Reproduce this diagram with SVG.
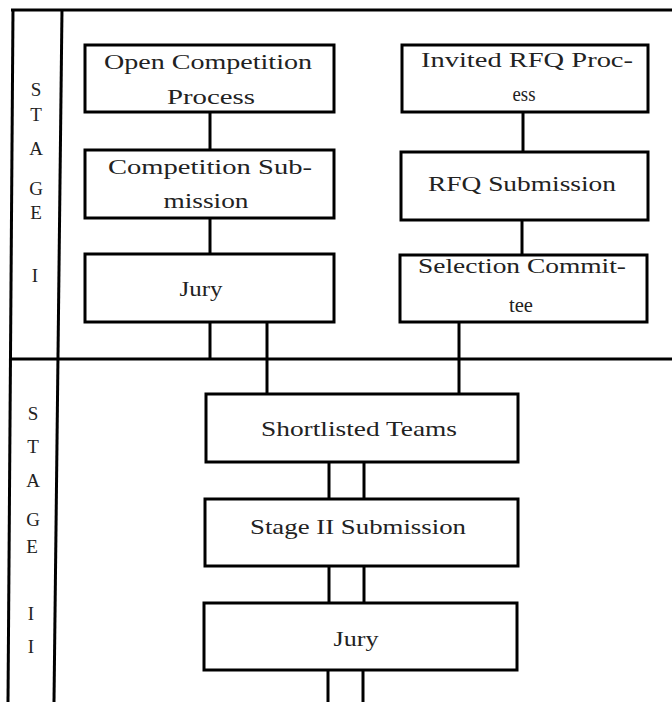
<svg xmlns="http://www.w3.org/2000/svg" width="672" height="702" viewBox="0 0 672 702">
<style>
.box{fill:#fff;stroke:#000;stroke-width:3}
.ln{stroke:#000;stroke-width:3;fill:none}
.t{font-family:"Liberation Serif","Times New Roman",serif;font-size:21px;fill:#222;text-anchor:middle}
.lt{font-family:"Liberation Serif","Times New Roman",serif;font-size:19px;fill:#222;text-anchor:middle}
</style>
<rect width="672" height="702" fill="#fff"/>
<g id="frame">
<line class="ln" x1="11" y1="10" x2="672" y2="10"/>
<line class="ln" x1="13" y1="9" x2="8" y2="702"/>
<line class="ln" x1="62" y1="9" x2="54" y2="702"/>
<line class="ln" x1="10" y1="359" x2="672" y2="359"/>
</g>
<g id="stage1-label">
<text class="lt" x="36" y="96">S</text>
<text class="lt" x="36" y="121">T</text>
<text class="lt" x="36" y="155">A</text>
<text class="lt" x="36" y="195">G</text>
<text class="lt" x="36" y="219">E</text>
<text class="lt" x="35" y="282">I</text>
</g>
<g id="stage2-label">
<text class="lt" x="33" y="420">S</text>
<text class="lt" x="33" y="453">T</text>
<text class="lt" x="33" y="487">A</text>
<text class="lt" x="33" y="526">G</text>
<text class="lt" x="32" y="553">E</text>
<text class="lt" x="31" y="620">I</text>
<text class="lt" x="31" y="653">I</text>
</g>
<g id="connectors">
<line class="ln" x1="210" y1="112" x2="210" y2="150"/>
<line class="ln" x1="210" y1="218" x2="210" y2="254"/>
<line class="ln" x1="210" y1="322" x2="210" y2="359"/>
<line class="ln" x1="267" y1="322" x2="267" y2="394"/>
<line class="ln" x1="523" y1="112" x2="523" y2="152"/>
<line class="ln" x1="522" y1="220" x2="522" y2="255"/>
<line class="ln" x1="459" y1="322" x2="459" y2="394"/>
<line class="ln" x1="329" y1="462" x2="329" y2="499"/>
<line class="ln" x1="364" y1="462" x2="364" y2="499"/>
<line class="ln" x1="329" y1="566" x2="329" y2="603"/>
<line class="ln" x1="364" y1="566" x2="364" y2="603"/>
<line class="ln" x1="328" y1="670" x2="328" y2="702"/>
<line class="ln" x1="363" y1="670" x2="363" y2="702"/>
</g>
<g id="open-competition">
<rect class="box" x="85" y="45" width="249" height="67"/>
<text class="t" x="208" y="69" textLength="208" lengthAdjust="spacingAndGlyphs">Open Competition</text>
<text class="t" x="211" y="104" textLength="88" lengthAdjust="spacingAndGlyphs">Process</text>
</g>
<g id="competition-submission">
<rect class="box" x="85" y="150" width="249" height="68"/>
<text class="t" x="210" y="174" textLength="204" lengthAdjust="spacingAndGlyphs">Competition Sub-</text>
<text class="t" x="206" y="208" textLength="85" lengthAdjust="spacingAndGlyphs">mission</text>
</g>
<g id="jury-1">
<rect class="box" x="85" y="254" width="249" height="68"/>
<text class="t" x="201" y="296" textLength="43" lengthAdjust="spacingAndGlyphs">Jury</text>
</g>
<g id="invited-rfq">
<rect class="box" x="402" y="45" width="246" height="67"/>
<text class="t" x="527" y="67" textLength="212" lengthAdjust="spacingAndGlyphs">Invited RFQ Proc-</text>
<text class="t" x="524" y="101" textLength="23" lengthAdjust="spacingAndGlyphs">ess</text>
</g>
<g id="rfq-submission">
<rect class="box" x="401" y="152" width="247" height="68"/>
<text class="t" x="522" y="191" textLength="188" lengthAdjust="spacingAndGlyphs">RFQ Submission</text>
</g>
<g id="selection-committee">
<rect class="box" x="400" y="255" width="247" height="67"/>
<text class="t" x="522" y="273" textLength="208" lengthAdjust="spacingAndGlyphs">Selection Commit-</text>
<text class="t" x="521" y="312" textLength="24" lengthAdjust="spacingAndGlyphs">tee</text>
</g>
<g id="shortlisted-teams">
<rect class="box" x="206" y="394" width="312" height="68"/>
<text class="t" x="359" y="436" textLength="196" lengthAdjust="spacingAndGlyphs">Shortlisted Teams</text>
</g>
<g id="stage2-submission">
<rect class="box" x="205" y="499" width="313" height="67"/>
<text class="t" x="358" y="534" textLength="216" lengthAdjust="spacingAndGlyphs">Stage II Submission</text>
</g>
<g id="jury-2">
<rect class="box" x="204" y="603" width="313" height="67"/>
<text class="t" x="356" y="646" textLength="45" lengthAdjust="spacingAndGlyphs">Jury</text>
</g>
</svg>
